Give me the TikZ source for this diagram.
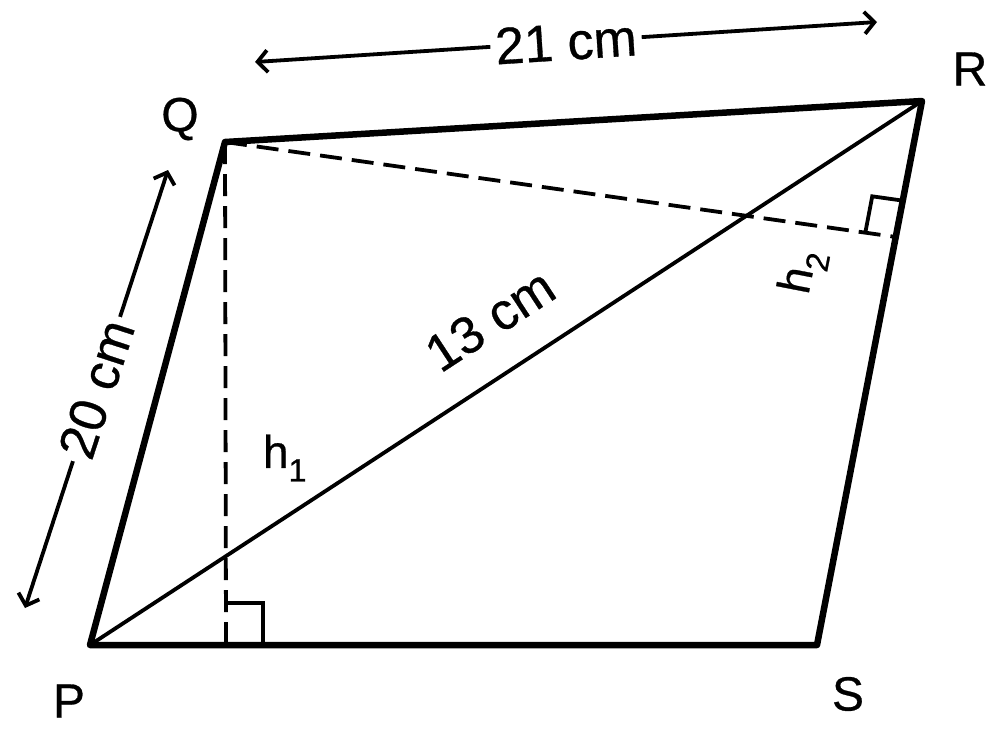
\documentclass[tikz,border=0pt]{standalone}
\usepackage{fontspec}
\setmainfont{Liberation Sans}[FakeBold=0.6]
\usetikzlibrary{arrows.meta,calc}
\tikzset{
  side/.style={line width=6.5pt, line join=round, line cap=round},
  diag/.style={line width=3.8pt},
  dashline/.style={line width=3.8pt, dash pattern=on 22pt off 10pt},
  rightmark/.style={line width=3.8pt},
  dimarrow/.style={line width=3.8pt, {Straight Barb[length=10pt,width=22pt,line width=3.8pt]}-{Straight Barb[length=10pt,width=22pt,line width=3.8pt]}},
  dimtext/.style={fill=white, inner sep=5pt, font=\fontsize{52}{56}\selectfont},
  vlabel/.style={font=\fontsize{48}{54}\selectfont, inner sep=0pt},
  hlabel/.style={font=\fontsize{46}{52}\selectfont, inner sep=0pt}
}
\begin{document}
\begin{tikzpicture}[x=1pt,y=-1pt]
\useasboundingbox (0,0) rectangle (997,732);
\coordinate (P) at (90,645);
\coordinate (Q) at (225,142);
\coordinate (R) at (922,101);
\coordinate (S) at (817,645);
\coordinate (H1) at (226,645);
\coordinate (F) at (896,237);

% dashed heights
\draw[dashline] (Q) -- (H1);
\draw[dashline] (Q) -- (F);

% right angle marks
\draw[rightmark] (226,603) -- (263,603) -- (263,645);
\draw[rightmark] ($(F)!31pt!(Q)$) -- ($($(F)!31pt!(Q)$)+($(F)!37pt!(R)$)-(F)$) -- ($(F)!37pt!(R)$);

% diagonal
\draw[diag] (P) -- (R);

% sides
\draw[side] (P) -- (Q) -- (R) -- (S) -- cycle;

% vertex labels
\node[vlabel] (lQ) at (180,119) {Q};
\node[vlabel] (lR) at (970,69) {R};
\node[vlabel] (lP) at (69,701) {P};
\node[vlabel] (lS) at (848,694) {S};

% dimension arrows
\coordinate (A1) at (255,62);
\coordinate (A2) at (877,22);
\draw[dimarrow] (A1) -- (A2) node[dimtext, midway, rotate=3.7] (t21) {21 cm};
\coordinate (B1) at (25,608);
\coordinate (B2) at (168,170);
\draw[dimarrow] (B1) -- (B2) node[dimtext, midway, rotate=71.9] (t20) {20 cm};

% diagonal label
\node[dimtext, fill=none, inner sep=0pt, rotate=33.2] (t13) at (490,320) {13 cm};

% heights labels
\node[hlabel] (h1) at (285,458) {h\textsubscript{1}};
\node[hlabel, rotate=79] (h2) at (803,272) {h\textsubscript{2}};
\end{tikzpicture}
\end{document}
